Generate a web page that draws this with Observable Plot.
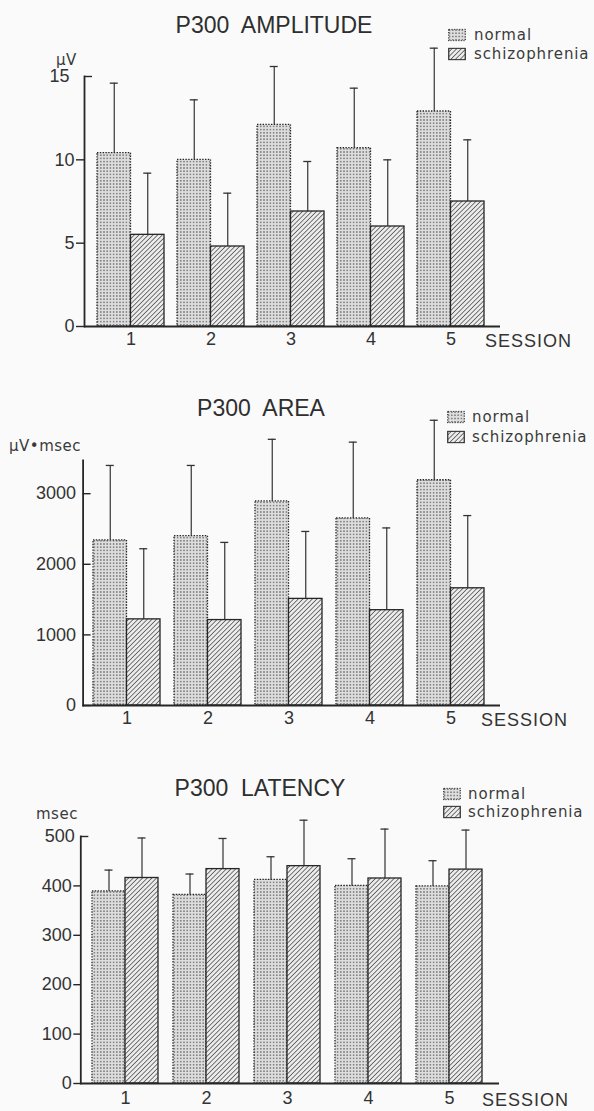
<!DOCTYPE html>
<html>
<head>
<meta charset="utf-8">
<script src="https://cdn.jsdelivr.net/npm/d3@7"></script>
<script src="https://cdn.jsdelivr.net/npm/@observablehq/plot@0.6"></script>
<style>
  html, body { margin: 0; padding: 0; background: #fafafa; }
  #fig { position: relative; width: 594px; height: 1111px; background: #fafafa; overflow: hidden; }
  .lbl { position: absolute; white-space: pre; line-height: 1; color: #2e2e2e; }
  .title { font-family: "Liberation Sans", Arial, sans-serif; font-size: 23px; transform: translate(-50%, -50%); }
  .leg { font-family: "DejaVu Sans", sans-serif; font-size: 15px; letter-spacing: 0.9px; transform: translateY(-50%); color: #3a3a3a; }
  .unit { font-family: "DejaVu Sans", sans-serif; font-size: 15px; letter-spacing: 0.5px; transform: translateY(-50%); color: #3a3a3a; }
  .sess { font-family: "Liberation Sans", Arial, sans-serif; font-size: 18px; letter-spacing: 1px; transform: translateY(-50%); color: #333; }
  .sw { position: absolute; transform: translateY(-50%); }
  .panel { position: absolute; left: 0; }
</style>
</head>
<body>
<svg width="0" height="0" style="position:absolute">
  <defs>
    <pattern id="pat-normal" width="3.2" height="3.2" patternUnits="userSpaceOnUse">
      <rect width="3.2" height="3.2" fill="#dedede"/>
      <circle cx="1.6" cy="1.6" r="0.8" fill="#666"/>
    </pattern>
    <pattern id="pat-schiz" width="3.3" height="3.3" patternUnits="userSpaceOnUse" patternTransform="rotate(45)">
      <rect width="3.3" height="3.3" fill="#ececec"/>
      <line x1="0" y1="0" x2="0" y2="3.3" stroke="#333" stroke-width="1.3"/>
    </pattern>
  </defs>
</svg>
<div id="fig"></div>
<script>
// ---------------- data ----------------
const sessions = ["1", "2", "3", "4", "5"];
const groups = ["normal", "schizophrenia"];

// P300 amplitude (µV): mean and SD (upper error bar)
const ampNormalMean = [10.4, 10.0, 12.1, 10.7, 12.9];
const ampNormalSD   = [4.2, 3.6, 3.5, 3.6, 3.8];
const ampSchizMean  = [5.5, 4.8, 6.9, 6.0, 7.5];
const ampSchizSD    = [3.7, 3.2, 3.0, 4.0, 3.7];
const ampTicks = [0, 5, 10, 15];

// P300 area (µV·msec)
const areaNormalMean = [2340, 2400, 2890, 2650, 3190];
const areaNormalSD   = [1060, 1000, 880, 1080, 850];
const areaSchizMean  = [1220, 1210, 1510, 1350, 1660];
const areaSchizSD    = [1000, 1100, 955, 1165, 1030];
const areaTicks = [0, 1000, 2000, 3000];

// P300 latency (msec)
const latNormalMean = [389, 382, 412, 400, 399];
const latNormalSD   = [43, 42, 47, 55, 52];
const latSchizMean  = [416, 434, 440, 415, 433];
const latSchizSD    = [81, 62, 93, 100, 80];
const latTicks = [0, 100, 200, 300, 400, 500];

const titles = ["P300  AMPLITUDE", "P300  AREA", "P300  LATENCY"];
const units = ["\u03BCV", "\u03BCV\u2022msec", "msec"];
const xName = "SESSION";

// ---------------- layout ----------------
const fig = document.getElementById("fig");
const W = 594;
const fmt = d => String(d);

function addText(cls, text, x, y) {
  const d = document.createElement("div");
  d.className = "lbl " + cls;
  d.textContent = text;
  d.style.left = x + "px";
  d.style.top = y + "px";
  fig.appendChild(d);
  return d;
}
function addSwatch(pat, dashed, x, y) {
  const ns = "http://www.w3.org/2000/svg";
  const s = document.createElementNS(ns, "svg");
  s.setAttribute("width", 18); s.setAttribute("height", 13);
  s.setAttribute("class", "sw");
  s.style.left = x + "px"; s.style.top = y + "px";
  const r = document.createElementNS(ns, "rect");
  r.setAttribute("x", 0.75); r.setAttribute("y", 0.75);
  r.setAttribute("width", 16.5); r.setAttribute("height", 11.5);
  r.setAttribute("fill", `url(#${pat})`);
  r.setAttribute("stroke", "#2a2a2a"); r.setAttribute("stroke-width", 1.2);
  if (dashed) r.setAttribute("stroke-dasharray", "1.3 1.3");
  s.appendChild(r);
  fig.appendChild(s);
}

function panel(cfg) {
  const data = sessions.map((s, i) => ({
    session: s,
    nm: cfg.nMean[i], nsd: cfg.nSD[i],
    sm: cfg.sMean[i], ssd: cfg.sSD[i]
  }));
  const n = sessions.length;
  const span = cfg.R - cfg.L;
  const pi = 1 - cfg.bw / cfg.step;
  const po = (span / cfg.step - n + pi) / 2;
  const align = (cfg.first - cfg.L) / (span - cfg.step * (n - pi));
  const half = cfg.bw / 2, q = cfg.bw / 4, cap = 4;
  const frameW = span;
  const stroke = "#262626";

  const marks = [
    Plot.barY(data, {x: "session", y: "nm", insetRight: half, fill: "url(#pat-normal)",
      stroke, strokeWidth: 1.3, strokeDasharray: "1.4 1.4"}),
    Plot.barY(data, {x: "session", y: "sm", insetLeft: half, fill: "url(#pat-schiz)",
      stroke, strokeWidth: 1.3}),
    Plot.ruleX(data, {x: "session", y1: "nm", y2: d => d.nm + d.nsd, dx: -q, stroke: "#333", strokeWidth: 1.2}),
    Plot.ruleX(data, {x: "session", y1: "sm", y2: d => d.sm + d.ssd, dx: q, stroke: "#333", strokeWidth: 1.2}),
    Plot.tickY(data, {x: "session", y: d => d.nm + d.nsd, insetLeft: q - cap, insetRight: cfg.bw - q - cap, stroke: "#333", strokeWidth: 1.3}),
    Plot.tickY(data, {x: "session", y: d => d.sm + d.ssd, insetLeft: 3 * q - cap, insetRight: q - cap, stroke: "#333", strokeWidth: 1.3}),
    Plot.ruleY([0], {stroke, strokeWidth: 1.8}),
    Plot.frame({anchor: "left", stroke, strokeWidth: 1.8}),
    Plot.axisX({tickSize: 0, tickPadding: cfg.xPad, label: null}),
  ];
  if (cfg.outTicks.length) marks.push(Plot.axisY({ticks: cfg.outTicks, tickFormat: fmt, tickSize: cfg.tickSize, tickPadding: cfg.tickPad, label: null, stroke, strokeWidth: 1.4}));
  if (cfg.inTicks.length) {
    marks.push(Plot.tickY(cfg.inTicks, {y: d => d, insetRight: frameW - 8, stroke, strokeWidth: 1.4}));
    marks.push(Plot.axisY({ticks: cfg.inTicks, tickFormat: fmt, tickSize: 0, tickPadding: cfg.inPad, label: null}));
  }

  const svg = Plot.plot({
    width: W,
    height: cfg.height,
    marginLeft: cfg.L,
    marginRight: W - cfg.R,
    marginTop: cfg.topY - cfg.top,
    marginBottom: cfg.top + cfg.height - cfg.baseY,
    x: {type: "band", domain: sessions, paddingInner: pi, paddingOuter: po, align, axis: null},
    y: {domain: cfg.domain, axis: null},
    style: {background: "transparent", fontFamily: "'Liberation Sans', Arial, sans-serif", fontSize: "18px", color: "#333", overflow: "visible"},
    marks
  });
  svg.classList.add("panel");
  svg.style.top = cfg.top + "px";
  fig.appendChild(svg);

  addText("title", cfg.title, cfg.titleX, cfg.titleY);
  addText("unit", cfg.unit, cfg.unitX, cfg.unitY);
  addText("sess", xName, cfg.sessX, cfg.sessY);
  addSwatch("pat-normal", true, cfg.swX, cfg.legY[0]);
  addSwatch("pat-schiz", false, cfg.swX, cfg.legY[1]);
  addText("leg", groups[0], cfg.legX, cfg.legY[0]);
  addText("leg", groups[1], cfg.legX, cfg.legY[1]);
}

panel({
  nMean: ampNormalMean, nSD: ampNormalSD, sMean: ampSchizMean, sSD: ampSchizSD,
  domain: [0, 15], outTicks: ampTicks.slice(0, 3), inTicks: ampTicks.slice(3),
  tickSize: 8, tickPad: 2, inPad: 15, xPad: 6,
  top: 0, height: 360, topY: 76, baseY: 326,
  L: 84, R: 500, first: 95.5, step: 80.6, bw: 67,
  title: titles[0], titleX: 274, titleY: 25,
  unit: units[0], unitX: 56, unitY: 60,
  sessX: 485, sessY: 341,
  swX: 448, legX: 474, legY: [35, 54]
});

panel({
  nMean: areaNormalMean, nSD: areaNormalSD, sMean: areaSchizMean, sSD: areaSchizSD,
  domain: [0, 3470], outTicks: [], inTicks: areaTicks,
  tickSize: 0, tickPad: 0, inPad: 7, xPad: 6,
  top: 360, height: 370, topY: 460, baseY: 705,
  L: 82.6, R: 500, first: 93, step: 81, bw: 67,
  title: titles[1], titleX: 261, titleY: 408,
  unit: units[1], unitX: 9, unitY: 446,
  sessX: 481, sessY: 720,
  swX: 447, legX: 472, legY: [417, 437]
});

panel({
  nMean: latNormalMean, nSD: latNormalSD, sMean: latSchizMean, sSD: latSchizSD,
  domain: [0, 500], outTicks: latTicks.slice(0, 5), inTicks: latTicks.slice(5),
  tickSize: 7, tickPad: 2, inPad: 6, xPad: 8,
  top: 740, height: 371, topY: 836, baseY: 1083,
  L: 80.3, R: 499, first: 92, step: 81, bw: 66,
  title: titles[2], titleX: 260, titleY: 788,
  unit: units[2], unitX: 36, unitY: 814,
  sessX: 482, sessY: 1100,
  swX: 443, legX: 468, legY: [794, 812]
});
</script>
</body>
</html>
